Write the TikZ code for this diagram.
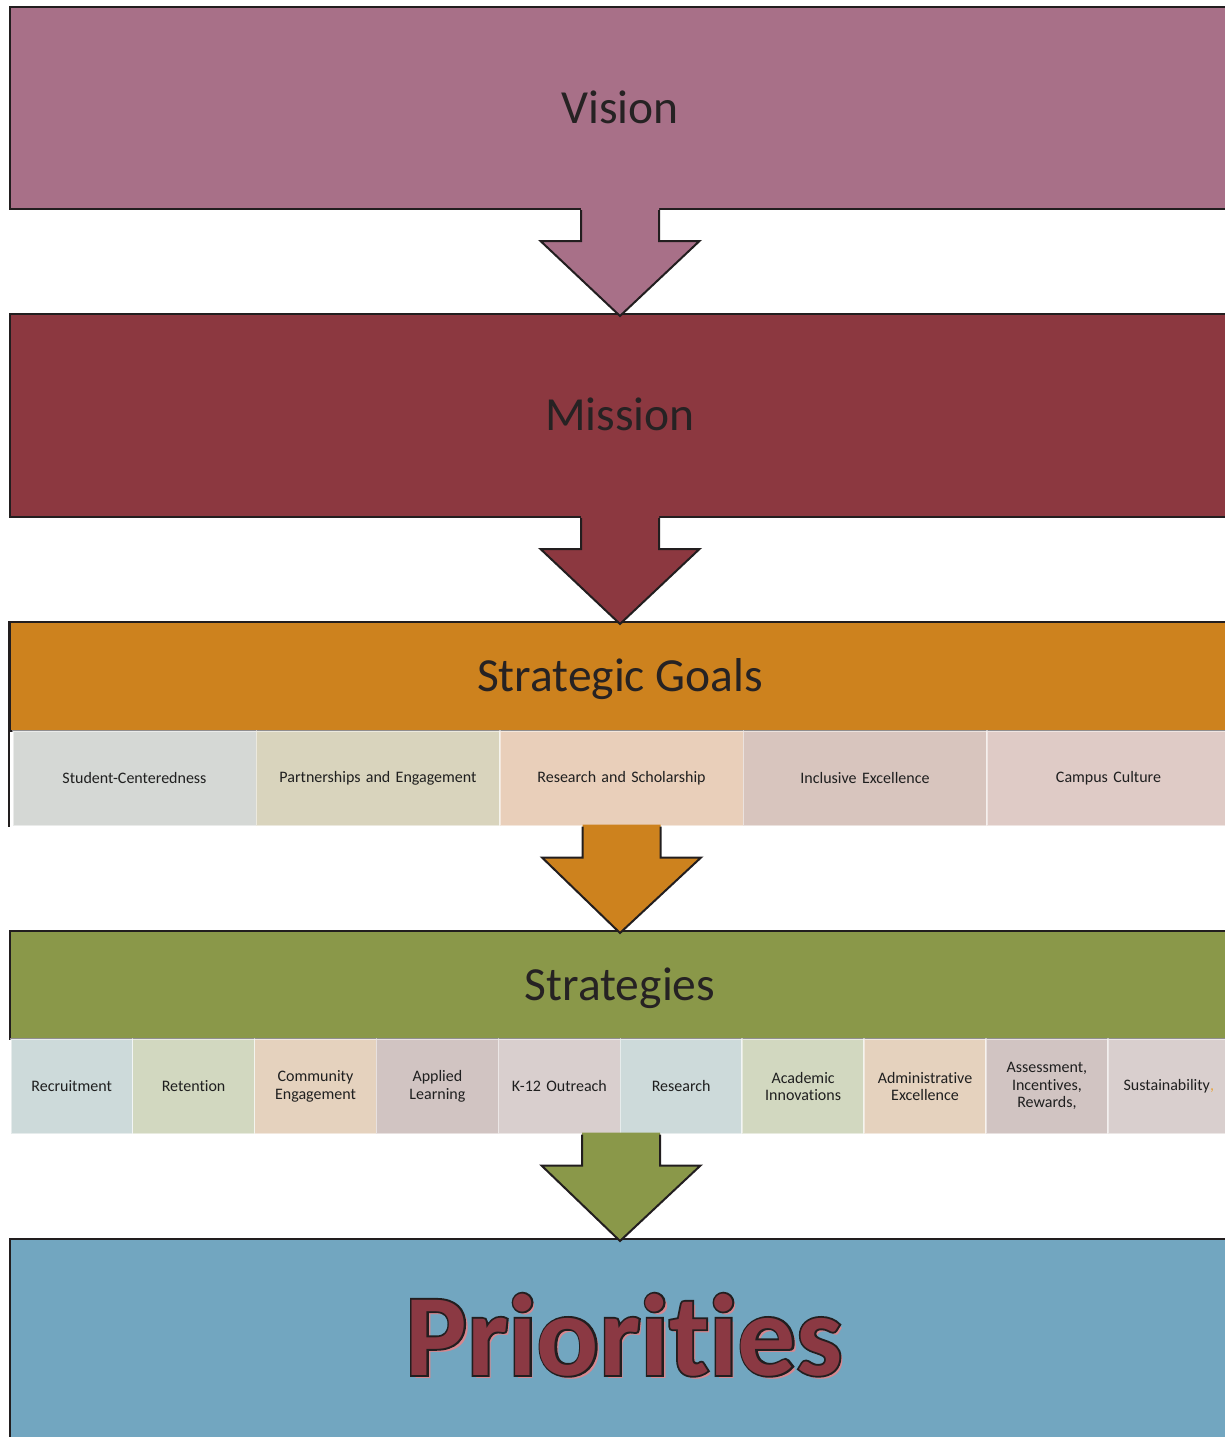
\documentclass[tikz,border=0pt]{standalone}
\usepackage{fontspec}
\setmainfont{Carlito}[Ligatures=NoCommon]
\newfontfamily\rimfont{Carlito}[Ligatures=NoCommon, BoldFeatures={FakeBold=3.2}]
\usetikzlibrary{calc}
\tikzset{>=stealth}

\definecolor{visionfill}{RGB}{168,112,136}
\definecolor{missionfill}{RGB}{140,56,64}
\definecolor{goalfill}{RGB}{205,130,30}
\definecolor{stratfill}{RGB}{138,152,73}
\definecolor{priofill}{RGB}{114,166,192}
\definecolor{rimcol}{RGB}{34,30,31}
\definecolor{ink}{RGB}{38,34,35}
\definecolor{priotext}{RGB}{139,57,67}
\definecolor{prioshade}{RGB}{214,135,143}
\definecolor{commacol}{RGB}{232,163,58}
% goal cells
\definecolor{gfill1}{RGB}{213,216,213}
\definecolor{gfill2}{RGB}{217,212,189}
\definecolor{gfill3}{RGB}{233,207,186}
\definecolor{gfill4}{RGB}{216,197,190}
\definecolor{gfill5}{RGB}{223,203,198}
% strategy cells
\definecolor{sfill1}{RGB}{205,218,218}
\definecolor{sfill2}{RGB}{210,216,192}
\definecolor{sfill3}{RGB}{229,210,190}
\definecolor{sfill4}{RGB}{209,196,194}
\definecolor{sfill5}{RGB}{217,207,206}
\colorlet{sfill6}{sfill1}
\colorlet{sfill7}{sfill2}
\colorlet{sfill8}{sfill3}
\colorlet{sfill9}{sfill4}
\colorlet{sfill10}{sfill5}

\tikzset{
  rim/.style={draw=rimcol, line width=2pt, line join=miter},
  band/.style={rim, minimum width=1220pt, inner sep=0pt, text height=30pt, text depth=0pt,
    text=ink, font=\fontsize{47.5}{56}\selectfont},
  cell/.style={draw=white, draw opacity=0.5, line width=1.5pt, inner sep=0pt, minimum height=95pt,
    align=center, anchor=north west, text=black!88, font=\fontsize{16}{17.5}\selectfont},
  prtext/.style={inner sep=0pt, anchor=base, font=\fontsize{116}{120}\selectfont\bfseries},
}

% block arrow from #1 down to #2, filled with #3
\newcommand{\stagearrow}[3]{%
  \fill[#3] ($(#1)+(-39,-2)$) -- ($(#1)+(-39,31)$) -- ($(#1)+(-79.5,31)$) -- ($(#2)+(0,3)$)
    -- ($(#1)+(79.5,31)$) -- ($(#1)+(39,31)$) -- ($(#1)+(39,-2)$) -- cycle;
  \draw[rim] ($(#1)+(-39,0)$) -- ($(#1)+(-39,31)$) -- ($(#1)+(-79.5,31)$) -- ($(#2)+(0,3)$)
    -- ($(#1)+(79.5,31)$) -- ($(#1)+(39,31)$) -- ($(#1)+(39,0)$);}

\begin{document}
\begin{tikzpicture}[x=1pt, y=-1pt]
  \useasboundingbox (0,0) rectangle (1225,1437);
  \clip (0,0) rectangle (1225,1437);

  \node[band, fill=visionfill, minimum height=202pt] (vision) at (620,108) {Vision};
  \node[band, fill=missionfill, minimum height=203pt] (mission) at (620,415.5) {Mission};

  % strategic goals
  \node[band, fill=goalfill, minimum height=109pt] (goals) at (620,676.5) {Strategic Goals};
  \foreach \lbl [count=\i] in {Student-Centeredness, Partnerships and Engagement,
      Research and Scholarship, Inclusive Excellence, Campus Culture}
    \node[cell, fill=gfill\i, minimum width=243.5pt, text width=235pt] (g\i) at ({12+243.5*(\i-1)},730) {\lbl};
  \draw[rim] (goals.north west) -- (goals.north west |- g1.south);

  % strategies
  \node[band, fill=stratfill, minimum height=108pt] (strat) at (620,985) {Strategies};
  \foreach \lbl [count=\i] in {Recruitment, Retention, Community\\Engagement, Applied\\Learning,
      K-12 Outreach, Research, Academic\\Innovations, Administrative\\Excellence,
      {Assessment,\\Incentives,\\Rewards,}, Sustainability\textcolor{commacol}{,}}
    \node[cell, fill=sfill\i, minimum width=121.9pt, text width=118pt] (s\i) at ({10+121.9*(\i-1)},1038) {\lbl};

  % priorities
  \node[band, fill=priofill, minimum height=240pt] (prio) at (620,1359) {};
  \coordinate (pbase) at (624,1375);
  \node[prtext, text=prioshade] (pshade) at ($(pbase)+(3.5,3.5)$) {Priorities};
  \node[prtext, text=rimcol, font=\fontsize{116}{120}\rimfont\bfseries] (pline) at (pbase) {Priorities};
  \node[prtext, text=priotext] (ptext) at (pbase) {Priorities};

  \stagearrow{vision.south}{mission.north}{visionfill}
  \stagearrow{mission.south}{goals.north}{missionfill}
  \stagearrow{g3.south}{strat.north}{goalfill}
  \stagearrow{s5.south east}{prio.north}{stratfill}
\end{tikzpicture}
\end{document}
